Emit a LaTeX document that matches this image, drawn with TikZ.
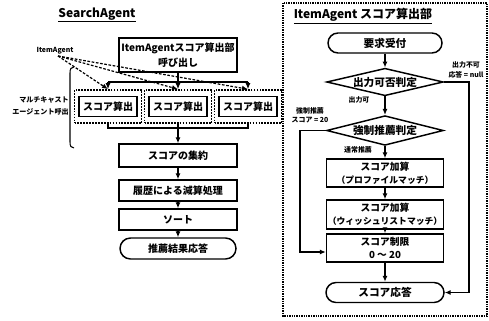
\documentclass[tikz,border=0pt]{standalone}
\usepackage{fontspec}
\setmainfont{Noto Sans CJK JP}
\usetikzlibrary{shapes.geometric,shapes.misc,arrows.meta,calc}
\begin{document}
\begin{tikzpicture}[x=0.75pt,y=-0.75pt,
  box/.style={draw,line width=1.1pt,inner sep=0pt,align=center,
    font=\bfseries\fontsize{7.5}{9}\selectfont},
  rbox/.style={box,minimum width=87.75pt,font=\bfseries\fontsize{7.3}{9.8}\selectfont},
  stad/.style={box,rounded rectangle},
  dia/.style={box,diamond,font=\bfseries\fontsize{8}{9}\selectfont},
  dbox/.style={draw,line width=1.2pt,dash pattern=on 1.3pt off 0.9pt,inner sep=0pt,
    minimum width=50.25pt,minimum height=24.75pt},
  sbox/.style={box,minimum width=43.5pt,minimum height=15pt},
  small/.style={inner sep=0pt,align=center,font=\bfseries\fontsize{5.2}{7}\selectfont},
  ttl/.style={inner sep=0pt,font=\bfseries\fontsize{9}{10}\selectfont},
  conn/.style={line width=0.9pt},
  arr/.style={conn,-{Latex[length=4.5pt,width=3.8pt]}},
  darr/.style={line width=0.9pt,dash pattern=on 2pt off 1.2pt,-{Latex[length=4.5pt,width=3.8pt]}},
  frame/.style={line width=0.9pt,dash pattern=on 1pt off 0.8pt}
]
\useasboundingbox (0,0) rectangle (489,321);

% ---------------- left: SearchAgent ----------------
\node[ttl] (tl) at (97,15) {\underline{SearchAgent}};
\node[box,minimum width=88.5pt,minimum height=25.5pt,
  font=\bfseries\fontsize{7.5}{11}\selectfont] (call) at (178,55) {ItemAgentスコア算出部\\呼び出し};

\foreach \i/\x in {1/108,2/178,3/248}{
  \node[dbox] (o\i) at (\x,106.5) {};
  \node[sbox] (s\i) at (\x,106.5) {スコア算出};
}
\coordinate (bt) at (178,82);
\coordinate (bb) at (178,128);
\draw[conn] (o1.north |- bt) -- (o3.north |- bt);
\draw[arr] (call.south) -- (o2.north);
\draw[arr] (o1.north |- bt) -- (o1.north);
\draw[arr] (o3.north |- bt) -- (o3.north);
\draw[conn] (o1.south) -- (o1.south |- bb) -- (o3.south |- bb) -- (o3.south);

\node[box,minimum width=88.5pt,minimum height=17.25pt] (agg) at (178,155.5) {スコアの集約};
\node[box,minimum width=88.5pt,minimum height=15.75pt] (hist) at (178,190.5) {履歴による減算処理};
\node[box,minimum width=88.5pt,minimum height=15.75pt] (sort) at (178,219.5) {ソート};
\node[stad,minimum width=87pt,minimum height=15.75pt] (res) at (178,248.5) {推薦結果応答};
\draw[conn] (o2.south) -- (o2.south |- bb);
\draw[arr] (o2.south |- bb) -- (agg.north);
\draw[arr] (agg.south) -- (hist.north);
\draw[arr] (hist.south) -- (sort.north);
\draw[arr] (sort.south) -- (res.north);

% ItemAgent label and dashed arrows
\node[small] (ia) at (55,51) {ItemAgent};
\coordinate (src) at (58,56);
\draw[darr] (src) -- (o1.north);
\draw[darr] (src) -- (o2.north);
\draw[darr] (src) -- (o3.north);

% multicast bracket
\node[small,anchor=east,align=right,font=\bfseries\fontsize{5.3}{9}\selectfont] (mc) at (69,106) {マルチキャスト\\エージェント呼出};
\draw[line width=0.8pt] (74,67) .. controls (71,67) and (70,69) .. (70,73) -- (70,142)
  .. controls (70,146) and (71,148) .. (74,148);

% ---------------- right: ItemAgent score ----------------
\draw[frame] (283,3) rectangle (487,316);
\node[ttl] (tr) at (363,16) {\underline{ItemAgent スコア算出部}};

\node[stad,minimum width=85.5pt,minimum height=15pt,font=\bfseries\fontsize{8}{9}\selectfont] (req) at (385,43) {要求受付};
\node[dia,minimum width=87.5pt,shape aspect=3.7] (d1) at (385,82) {出力可否判定};
\node[dia,minimum width=87.75pt,shape aspect=3.3] (d2) at (385,130.5) {強制推薦判定};
\node[rbox,minimum height=21pt] (b1) at (385,173) {スコア加算\\{\fontsize{6.6}{9.8}\selectfont （プロファイルマッチ）}};
\node[rbox,minimum height=21.75pt] (b2) at (385,214.5) {スコア加算\\{\fontsize{6.6}{9.8}\selectfont （ウィッシュリストマッチ）}};
\node[rbox,minimum height=21pt] (b3) at (385,248) {スコア制限\\0 〜 20};
\node[stad,minimum width=88.5pt,minimum height=15pt,font=\bfseries\fontsize{8}{9}\selectfont] (sr) at (385,292.5) {スコア応答};

\draw[arr] (req.south) -- (d1.north);
\draw[arr] (d1.south) -- (d2.north);
\draw[arr] (d2.south) -- (b1.north);
\draw[arr] (b1.south) -- (b2.north);
\draw[arr] (b2.south) -- (b3.north);
\draw[arr] (b3.south) -- (sr.north);

\coordinate (rx) at (469,82);
\coordinate (lx) at (300,130.5);
\draw[arr] (d1.east) -- (rx) -- (rx |- sr.east) -- (sr.east);
\draw[arr] (d2.west) -- (lx) -- (lx |- 0,252) -- (b3.west |- 0,252);

\node[small] (l1) at (359,100) {出力可};
\node[small] (l2) at (358,150) {通常推薦};
\node[small,align=center] (l3) at (310,115) {強制推薦\\スコア = 20};
\node[small,align=center] (l4) at (466,70) {出力不可\\応答 = null};
\end{tikzpicture}
\end{document}
